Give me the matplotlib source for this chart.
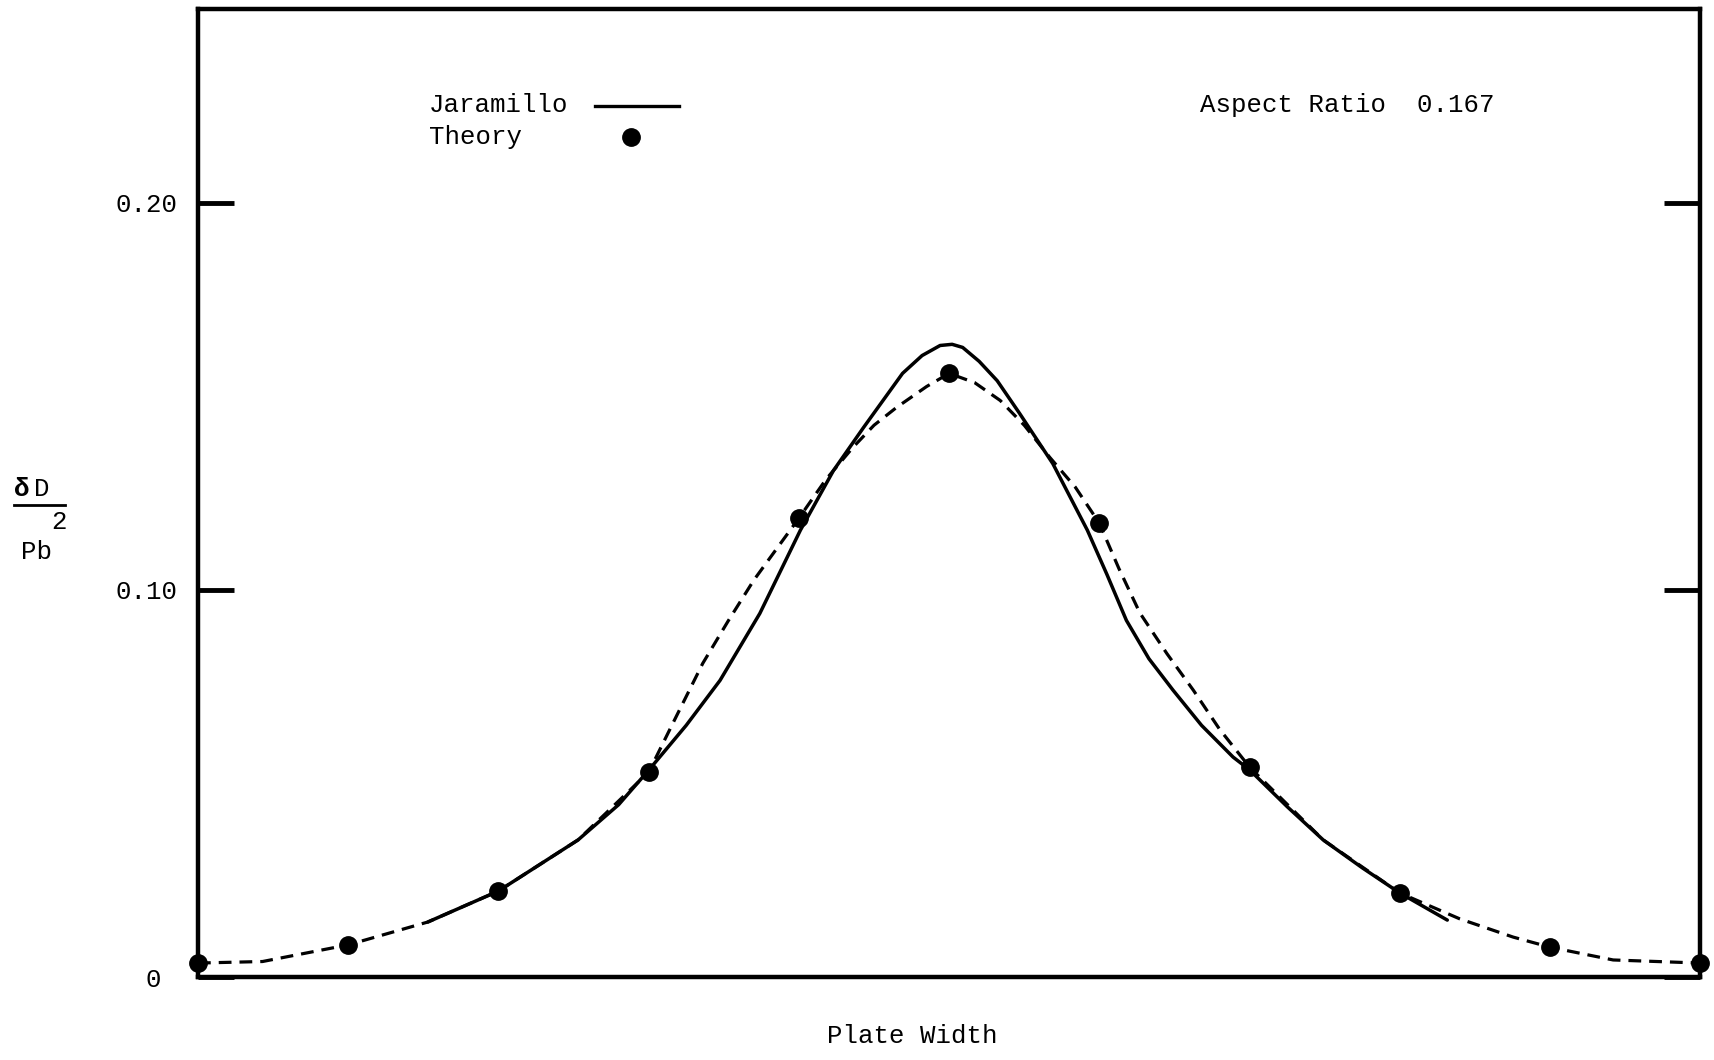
import matplotlib
matplotlib.use("Agg")
import matplotlib.pyplot as plt

# Theory points (plate width as fraction, deflection dD/Pb^2)
theory_x = [0.0, 0.1, 0.2, 0.3, 0.4, 0.5, 0.6, 0.7, 0.8, 0.9, 1.0]
theory_y = [0.0036, 0.0083, 0.0222, 0.0529, 0.1185, 0.1559, 0.1172, 0.0542, 0.0217, 0.0077, 0.0036]

# dashed curve drawn through the theory points
dash_x = [0.0, 0.043, 0.1, 0.153, 0.2, 0.253, 0.3, 0.318, 0.336, 0.353, 0.37, 0.4, 0.418,
          0.436, 0.45, 0.465, 0.485, 0.5, 0.517, 0.534, 0.55, 0.567, 0.584, 0.6, 0.613,
          0.627, 0.645, 0.6625, 0.68, 0.7, 0.749, 0.8, 0.84, 0.8755, 0.9, 0.942, 1.0]
dash_y = [0.0036, 0.0040, 0.0083, 0.0142, 0.0222, 0.0354, 0.0529, 0.0670, 0.0810, 0.0920,
          0.1025, 0.1185, 0.1285, 0.1368, 0.1425, 0.1471, 0.1525, 0.1559, 0.1535, 0.1489,
          0.1425, 0.1342, 0.1265, 0.1172, 0.1055, 0.0940, 0.0835, 0.0741, 0.0640, 0.0542,
          0.0354, 0.0217, 0.0150, 0.0103, 0.0077, 0.0044, 0.0036]

# Jaramillo (solid)
jar_x = [0.153, 0.2, 0.253, 0.28, 0.3, 0.325, 0.3475, 0.374, 0.401, 0.423, 0.443, 0.469,
         0.482, 0.494, 0.502, 0.509, 0.52, 0.532, 0.547, 0.569, 0.592, 0.605, 0.618,
         0.633, 0.649, 0.668, 0.689, 0.7, 0.725, 0.749, 0.775, 0.8, 0.8316]
jar_y = [0.0142, 0.0222, 0.0354, 0.0445, 0.0534, 0.0650, 0.0766, 0.0939, 0.1154, 0.1308,
         0.1419, 0.1559, 0.1605, 0.1631, 0.1634, 0.1626, 0.1590, 0.1540, 0.1455, 0.1326,
         0.1154, 0.1040, 0.0921, 0.0822, 0.0741, 0.0650, 0.0568, 0.0535, 0.0440, 0.0354,
         0.0282, 0.0217, 0.0147]

ytick_vals = [0.0, 0.10, 0.20]
ytick_labels = ["0 ", "0.10", "0.20"]

plt.rcParams['font.family'] = ['Liberation Mono', 'DejaVu Sans Mono']
fs = 18.5

fig = plt.figure(figsize=(17.14, 10.6), dpi=100)
ax = fig.add_axes([0.1155, 0.0783, 0.8765, 0.9132])

ax.plot(dash_x, dash_y, color='black', lw=2.3, dashes=(4, 2.5), zorder=2)
ax.plot(jar_x, jar_y, color='black', lw=2.5, solid_capstyle='round',
        solid_joinstyle='round', zorder=3)
ax.plot(theory_x, theory_y, 'o', color='black', markersize=12.5, zorder=4, clip_on=False)

ax.set_xlim(0, 1)
ax.set_ylim(0, 0.25)
ax.set_xticks([])
ax.set_yticks(ytick_vals)
ax.set_yticklabels(ytick_labels, fontsize=fs)
ax.tick_params(axis='y', direction='in', length=26, width=3.5, pad=15,
               left=True, right=True, labelright=False)
for s in ax.spines.values():
    s.set_linewidth(3.2)

# legend, typed by hand in the original
ax.text(0.1535, 0.901, "Jaramillo", transform=ax.transAxes, fontsize=fs, va='center')
ax.text(0.1535, 0.868, "Theory", transform=ax.transAxes, fontsize=fs, va='center')
ax.plot([0.264, 0.320], [0.900, 0.900], color='black', lw=2.4, transform=ax.transAxes)
ax.plot([0.288], [0.868], 'o', color='black', markersize=12.5, transform=ax.transAxes)

ax.text(0.667, 0.901, "Aspect Ratio  0.167", transform=ax.transAxes, fontsize=fs, va='center')

# y label as a typed fraction
fig.text(0.008, 0.539, "δ", fontsize=fs, fontweight='bold', va='center')
fig.text(0.020, 0.539, "D", fontsize=fs, va='center')
fig.add_artist(plt.Line2D([0.008, 0.038], [0.524, 0.524], color='black', lw=2))
fig.text(0.030, 0.508, "2", fontsize=fs, va='center')
fig.text(0.012, 0.479, "Pb", fontsize=fs, va='center')

fig.text(0.532, 0.023, "Plate Width", fontsize=fs, ha='center', va='center')

plt.savefig("out.png", dpi=100)
